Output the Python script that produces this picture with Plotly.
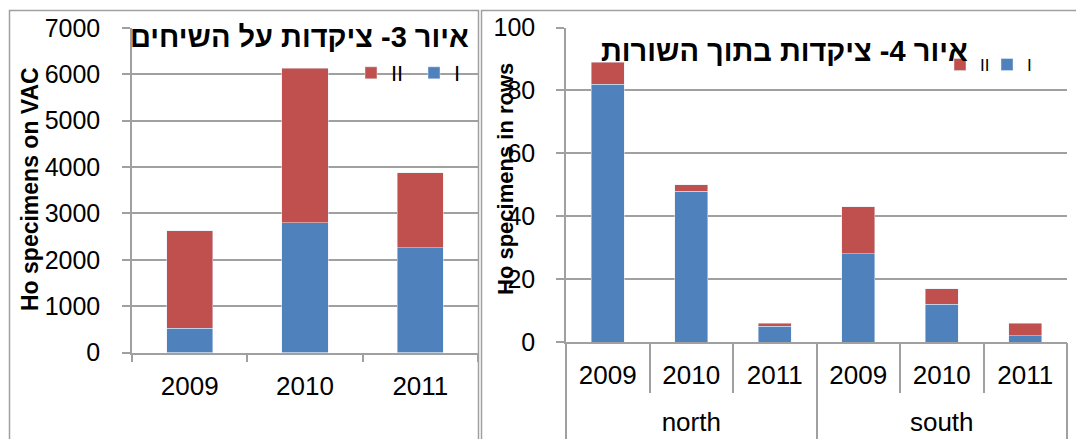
import plotly.graph_objects as go

# ---- data ----
years = ["2009", "2010", "2011"]
vac_I = [520, 2800, 2260]
vac_II = [2110, 3330, 1620]

regions = ["north", "north", "north", "south", "south", "south"]
row_years = ["2009", "2010", "2011", "2009", "2010", "2011"]
rows_I = [82, 48, 5, 28, 12, 2]
rows_II = [7, 2, 1, 15, 5, 4]

title_left = "איור 3- ציקדות על השיחים"
title_right = "איור 4- ציקדות בתוך השורות"
ytitle_left = "Ho specimens on VAC"
ytitle_right = "Ho specimens in rows"

# ---- style ----
BLUE = "#4F81BD"
RED = "#C0504D"
GRID = "#A0A0A0"
FONT = "Liberation Sans, Arial, sans-serif"
W, H = 1076, 439


def px(x):
    return x / W


def py(y):
    return (H - y) / H


# unique category keys for the right chart, labelled by year
row_keys = ["%s %s" % (r, y) for r, y in zip(regions, row_years)]
# group (region) centres and boundaries on the category index scale
group_names = list(dict.fromkeys(regions))
group_idx = {g: [i for i, r in enumerate(regions) if r == g] for g in group_names}
group_centres = [sum(v) / len(v) for v in group_idx.values()]
group_bounds = [min(group_idx[group_names[0]]) - 0.5] + [max(v) + 0.5 for v in group_idx.values()]

fig = go.Figure()
fig.add_trace(go.Bar(x=years, y=vac_I, name="I", marker_color=BLUE,
                     xaxis="x", yaxis="y", legend="legend"))
fig.add_trace(go.Bar(x=years, y=vac_II, name="II", marker_color=RED,
                     xaxis="x", yaxis="y", legend="legend"))
fig.add_trace(go.Bar(x=row_keys, y=rows_I, name="I", marker_color=BLUE,
                     xaxis="x2", yaxis="y2", legend="legend2"))
fig.add_trace(go.Bar(x=row_keys, y=rows_II, name="II", marker_color=RED,
                     xaxis="x2", yaxis="y2", legend="legend2"))
# carrier for the region (group) axis under the right chart; draws nothing
fig.add_trace(go.Scatter(x=group_centres, y=[0] * len(group_centres), mode="none",
                         xaxis="x3", yaxis="y2", showlegend=False, hoverinfo="skip"))

XFONT = dict(size=26, color="black", family=FONT)
common_x = dict(showline=True, linecolor=GRID, linewidth=1.5, ticks="outside",
                tickson="boundaries", tickcolor=GRID, tickwidth=1.5, showgrid=False,
                tickfont=XFONT, zeroline=False)
common_y = dict(showline=True, linecolor=GRID, linewidth=1.5, ticks="outside", ticklen=8,
                tickcolor=GRID, tickwidth=1.5, showgrid=True, gridcolor=GRID, gridwidth=1.5,
                zeroline=False, tickfont=dict(size=25, color="black", family=FONT))

fig.update_layout(
    width=W, height=H,
    margin=dict(l=0, r=0, t=0, b=0, autoexpand=False),
    paper_bgcolor="white", plot_bgcolor="white",
    barmode="stack", bargap=0.6,
    font=dict(family=FONT, color="black"),
    xaxis=dict(domain=[px(132), px(478)], anchor="y", type="category", ticklen=8,
               ticklabelstandoff=10, **common_x),
    yaxis=dict(domain=[py(352.5), py(28)], anchor="x", range=[0, 7000], dtick=1000,
               ticklabelstandoff=17, **common_y),
    xaxis2=dict(domain=[px(566), px(1067)], anchor="y2", type="category", ticklen=49,
                tickmode="array", tickvals=row_keys, ticktext=row_years,
                ticklabelstandoff=9, **common_x),
    xaxis3=dict(overlaying="x2", anchor="free", position=py(342), side="bottom",
                type="linear", range=[-0.5, len(regions) - 0.5],
                tickmode="array", tickvals=group_centres, ticktext=group_names,
                ticks="", showline=False, showgrid=False, zeroline=False,
                ticklabelstandoff=62, tickfont=XFONT,
                minor=dict(tickvals=group_bounds, ticks="outside", ticklen=100,
                           tickcolor=GRID, tickwidth=1.5, showgrid=False)),
    yaxis2=dict(domain=[py(342), py(27.5)], anchor="x2", range=[0, 100], dtick=20,
                ticklabelstandoff=16, **common_y),
    legend=dict(orientation="h", x=px(351), y=py(73), xanchor="left", yanchor="middle",
                traceorder="reversed", bgcolor="rgba(0,0,0,0)", entrywidth=18,
                font=dict(size=22, family=FONT, color="black")),
    legend2=dict(orientation="h", x=px(940), y=py(65), xanchor="left", yanchor="middle",
                 traceorder="reversed", bgcolor="rgba(0,0,0,0)", entrywidth=2,
                 font=dict(size=17, family=FONT, color="black")),
    annotations=[
        dict(text="<b>%s</b>" % title_left, xref="paper", yref="paper", x=px(471), y=py(37),
             xanchor="right", yanchor="middle", showarrow=False,
             font=dict(size=29, family=FONT, color="black")),
        dict(text="<b>%s</b>" % title_right, xref="paper", yref="paper", x=px(970), y=py(51),
             xanchor="right", yanchor="middle", showarrow=False,
             font=dict(size=29, family=FONT, color="black")),
        dict(text="<b>%s</b>" % ytitle_left, xref="paper", yref="paper", x=px(30), y=py(189),
             xanchor="center", yanchor="middle", textangle=-90, showarrow=False,
             font=dict(size=23, family=FONT, color="black")),
        dict(text="<b>%s</b>" % ytitle_right, xref="paper", yref="paper", x=px(505), y=py(179),
             xanchor="center", yanchor="middle", textangle=-90, showarrow=False,
             font=dict(size=22, family=FONT, color="black")),
    ],
    shapes=[
        dict(type="rect", xref="paper", yref="paper", x0=px(9.5), x1=px(478.5),
             y0=py(460), y1=py(10.5), line=dict(color=GRID, width=1.5)),
        dict(type="rect", xref="paper", yref="paper", x0=px(481.5), x1=px(1090),
             y0=py(460), y1=py(10.5), line=dict(color=GRID, width=1.5)),
    ],
)

fig.write_html(
    "out.html",
    config={"displayModeBar": False},
    post_script=(
        "document.body.style.margin='0px';"
        "var gd=document.getElementById('{plot_id}');"
        "gd.style.position='absolute';gd.style.left='0px';gd.style.top='0px';"
    ),
)
